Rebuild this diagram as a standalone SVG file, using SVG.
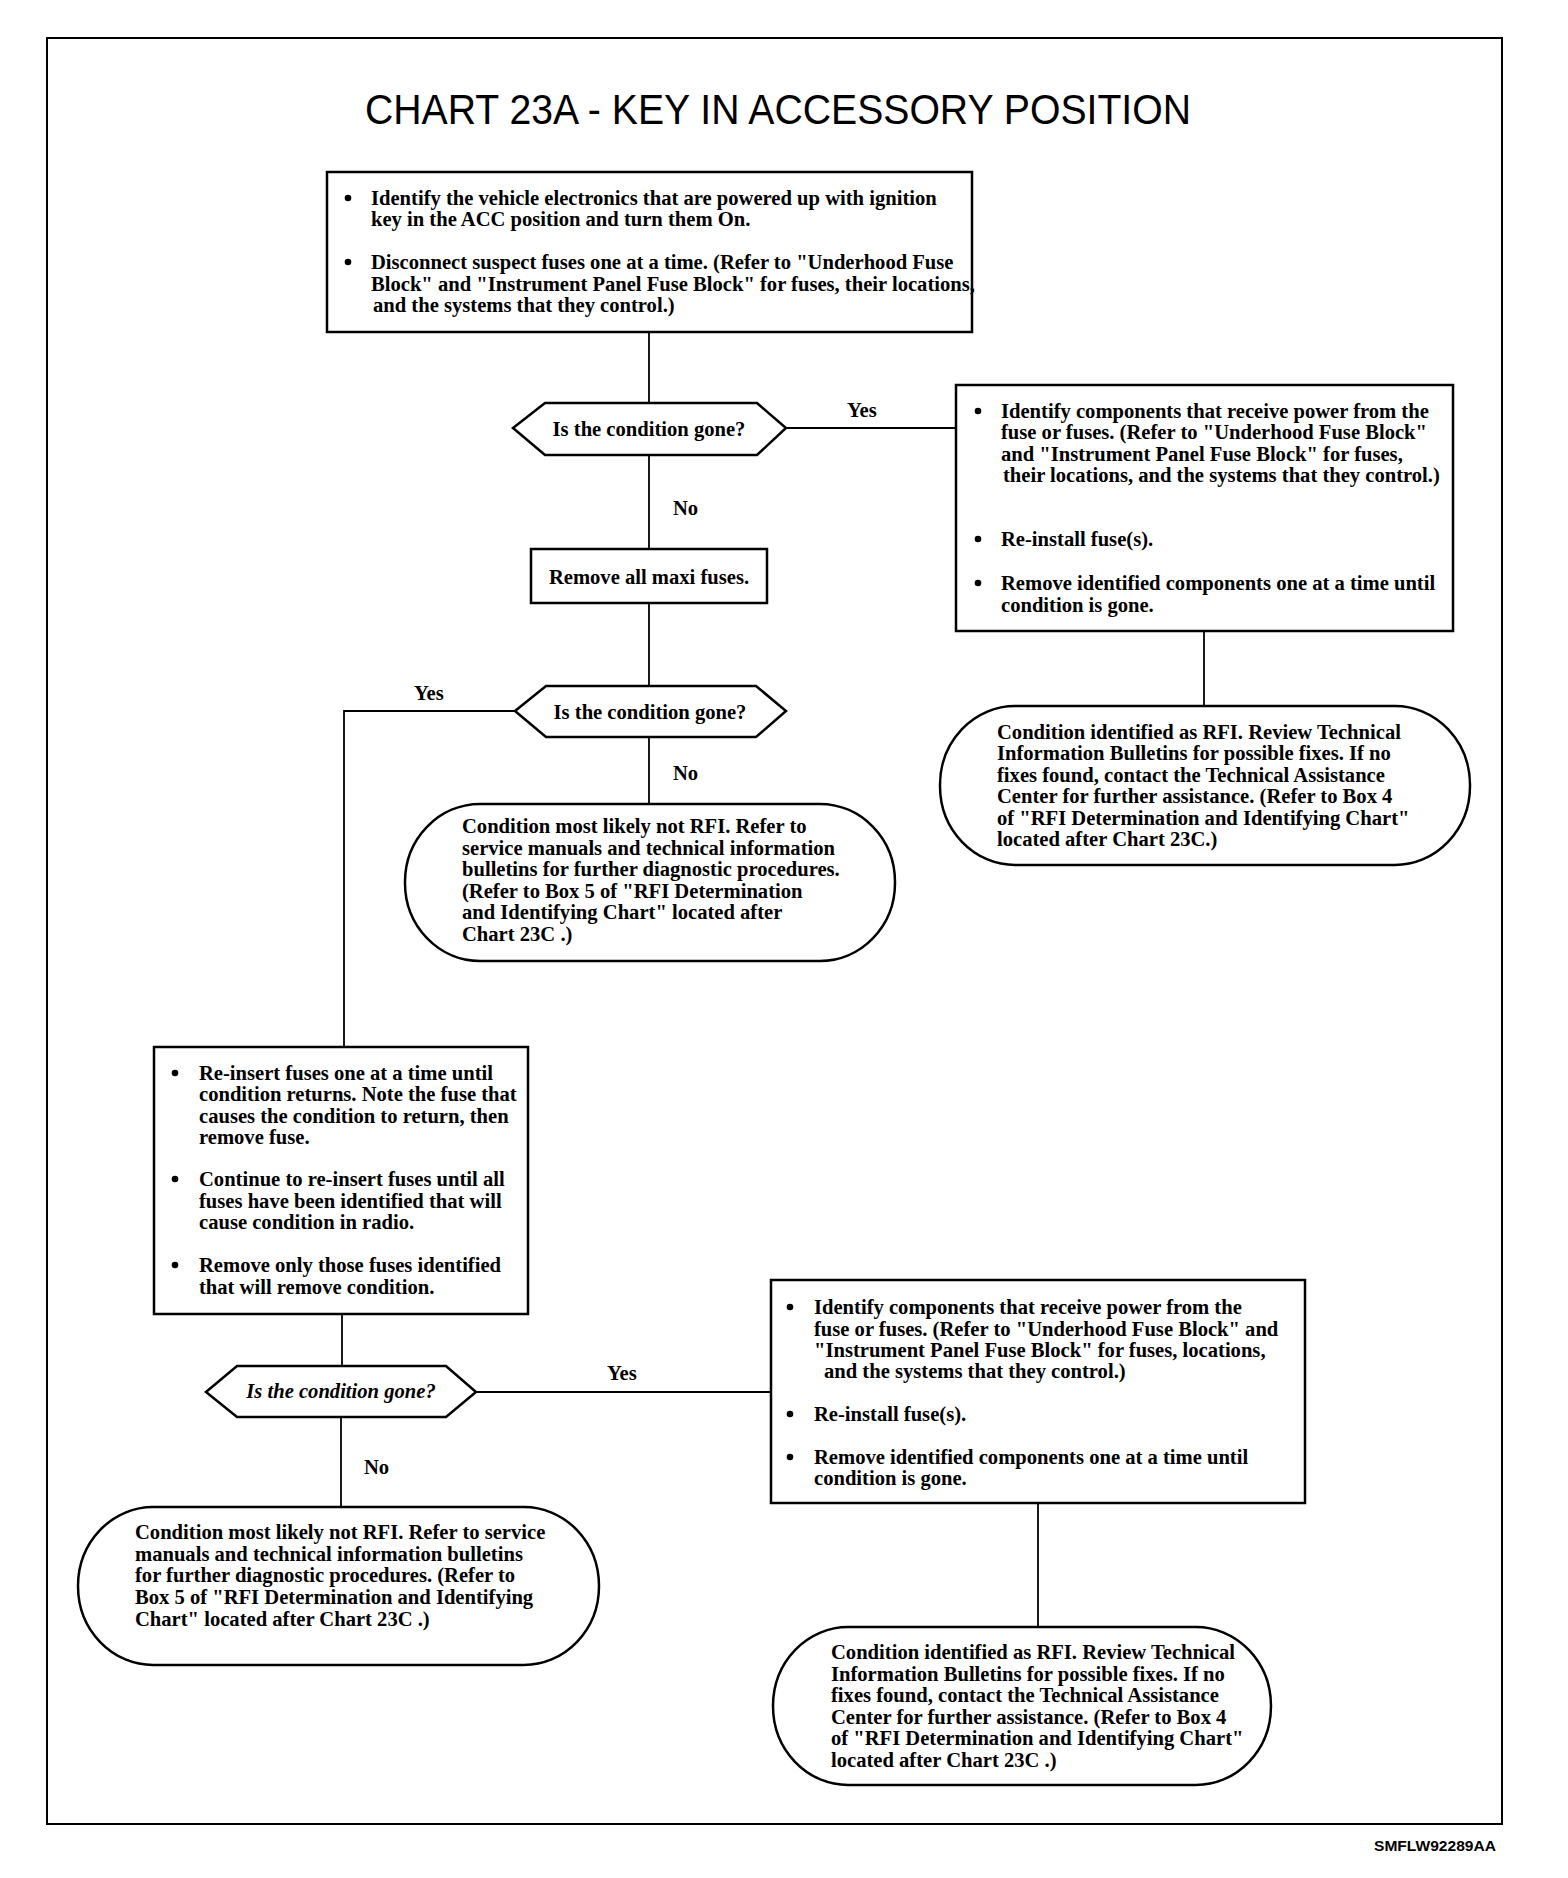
<svg xmlns="http://www.w3.org/2000/svg" width="1568" height="1878" viewBox="0 0 1568 1878">
<style>
.bx{fill:#fff;stroke:#000;stroke-width:2.5}
.ln{fill:none;stroke:#000;stroke-width:1.8}
.t{font-family:"Liberation Serif","Times New Roman",serif;font-size:20.6px;font-weight:bold;fill:#000}
.c{text-anchor:middle}
.bul{fill:#000}
</style>
<rect x="0" y="0" width="1568" height="1878" fill="#fff"/>
<rect x="47" y="38" width="1455" height="1786" fill="none" stroke="#000" stroke-width="2"/>
<text x="778" y="124" font-family="'Liberation Sans',Arial,sans-serif" font-size="42" text-anchor="middle" textLength="826" lengthAdjust="spacingAndGlyphs">CHART 23A - KEY IN ACCESSORY POSITION</text>

<g id="connectors">
<line class="ln" x1="649" y1="332" x2="649" y2="403"/>
<line class="ln" x1="786" y1="428" x2="956" y2="428"/>
<line class="ln" x1="649" y1="455" x2="649" y2="549"/>
<line class="ln" x1="1204" y1="631" x2="1204" y2="706"/>
<line class="ln" x1="649" y1="603" x2="649" y2="686"/>
<polyline class="ln" points="515,711 344,711 344,1047"/>
<line class="ln" x1="649" y1="737" x2="649" y2="804"/>
<line class="ln" x1="342" y1="1314" x2="342" y2="1366"/>
<line class="ln" x1="476" y1="1392" x2="771" y2="1392"/>
<line class="ln" x1="341" y1="1417" x2="341" y2="1507"/>
<line class="ln" x1="1038" y1="1503" x2="1038" y2="1627"/>
<text class="t" x="847" y="417">Yes</text>
<text class="t" x="673" y="515">No</text>
<text class="t" x="414" y="700">Yes</text>
<text class="t" x="673" y="780">No</text>
<text class="t" x="607" y="1380" font-weight="normal">Yes</text>
<text class="t" x="364" y="1474">No</text>
</g>

<g id="box-start">
<rect class="bx" x="327" y="172" width="645" height="160"/>
<circle class="bul" cx="348" cy="198" r="3.3"/>
<circle class="bul" cx="348" cy="262" r="3.3"/>
<text class="t" x="371" y="205">Identify the vehicle electronics that are powered up with ignition</text>
<text class="t" x="371" y="226">key in the ACC position and turn them On.</text>
<text class="t" x="371" y="269">Disconnect suspect fuses one at a time. (Refer to "Underhood Fuse</text>
<text class="t" x="371" y="291">Block" and "Instrument Panel Fuse Block" for fuses, their locations,</text>
<text class="t" x="373" y="312">and the systems that they control.)</text>
</g>

<g id="decision-1">
<polygon class="bx" points="513,428 545,403 757,403 786,428 757,455 545,455"/>
<text class="t c" x="649" y="436">Is the condition gone?</text>
</g>

<g id="box-identify-1">
<rect class="bx" x="956" y="385" width="497" height="246"/>
<circle class="bul" cx="978" cy="411" r="3.3"/>
<circle class="bul" cx="978" cy="539" r="3.3"/>
<circle class="bul" cx="978" cy="583" r="3.3"/>
<text class="t" x="1001" y="418">Identify components that receive power from the</text>
<text class="t" x="1001" y="439">fuse or fuses. (Refer to "Underhood Fuse Block"</text>
<text class="t" x="1001" y="461">and "Instrument Panel Fuse Block" for fuses,</text>
<text class="t" x="1003" y="482">their locations, and the systems that they control.)</text>
<text class="t" x="1001" y="546">Re-install fuse(s).</text>
<text class="t" x="1001" y="590">Remove identified components one at a time until</text>
<text class="t" x="1001" y="612">condition is gone.</text>
</g>

<g id="end-rfi-1">
<rect class="bx" x="940" y="706" width="530" height="159" rx="75" ry="79"/>
<text class="t" x="997" y="739">Condition identified as RFI. Review Technical</text>
<text class="t" x="997" y="760">Information Bulletins for possible fixes. If no</text>
<text class="t" x="997" y="782">fixes found, contact the Technical Assistance</text>
<text class="t" x="997" y="803">Center for further assistance. (Refer to Box 4</text>
<text class="t" x="997" y="825">of "RFI Determination and Identifying Chart"</text>
<text class="t" x="997" y="846">located after Chart 23C.)</text>
</g>

<g id="box-maxi">
<rect class="bx" x="531" y="549" width="236" height="54"/>
<text class="t c" x="649" y="584">Remove all maxi fuses.</text>
</g>

<g id="decision-2">
<polygon class="bx" points="515,711 546,686 756,686 786,711 756,737 546,737"/>
<text class="t c" x="650" y="719">Is the condition gone?</text>
</g>

<g id="end-notrfi-1">
<rect class="bx" x="405" y="804" width="490" height="157" rx="75" ry="78"/>
<text class="t" x="462" y="833">Condition most likely not RFI. Refer to</text>
<text class="t" x="462" y="855">service manuals and technical information</text>
<text class="t" x="462" y="876">bulletins for further diagnostic procedures.</text>
<text class="t" x="462" y="898">(Refer to Box 5 of "RFI Determination</text>
<text class="t" x="462" y="919">and Identifying Chart" located after</text>
<text class="t" x="462" y="941">Chart 23C .)</text>
</g>

<g id="box-reinsert">
<rect class="bx" x="154" y="1047" width="374" height="267"/>
<circle class="bul" cx="175" cy="1073" r="3.3"/>
<circle class="bul" cx="175" cy="1179" r="3.3"/>
<circle class="bul" cx="175" cy="1265" r="3.3"/>
<text class="t" x="199" y="1080">Re-insert fuses one at a time until</text>
<text class="t" x="199" y="1101">condition returns. Note the fuse that</text>
<text class="t" x="199" y="1123">causes the condition to return, then</text>
<text class="t" x="199" y="1144">remove fuse.</text>
<text class="t" x="199" y="1186">Continue to re-insert fuses until all</text>
<text class="t" x="199" y="1208">fuses have been identified that will</text>
<text class="t" x="199" y="1229">cause condition in radio.</text>
<text class="t" x="199" y="1272">Remove only those fuses identified</text>
<text class="t" x="199" y="1294">that will remove condition.</text>
</g>

<g id="decision-3">
<polygon class="bx" points="206,1392 237,1366 446,1366 476,1392 446,1417 237,1417"/>
<text class="t c" x="341" y="1398" font-style="italic" font-weight="normal" font-size="21.5">Is the condition gone?</text>
</g>

<g id="box-identify-2">
<rect class="bx" x="771" y="1280" width="534" height="223"/>
<circle class="bul" cx="790" cy="1307" r="3.3"/>
<circle class="bul" cx="790" cy="1414" r="3.3"/>
<circle class="bul" cx="790" cy="1457" r="3.3"/>
<text class="t" x="814" y="1314">Identify components that receive power from the</text>
<text class="t" x="814" y="1336">fuse or fuses. (Refer to "Underhood Fuse Block" and</text>
<text class="t" x="814" y="1357">"Instrument Panel Fuse Block" for fuses, locations,</text>
<text class="t" x="824" y="1378">and the systems that they control.)</text>
<text class="t" x="814" y="1421">Re-install fuse(s).</text>
<text class="t" x="814" y="1464">Remove identified components one at a time until</text>
<text class="t" x="814" y="1485">condition is gone.</text>
</g>

<g id="end-notrfi-2">
<rect class="bx" x="78" y="1507" width="521" height="158" rx="75" ry="79"/>
<text class="t" x="135" y="1539">Condition most likely not RFI. Refer to service</text>
<text class="t" x="135" y="1561">manuals and technical information bulletins</text>
<text class="t" x="135" y="1582">for further diagnostic procedures. (Refer to</text>
<text class="t" x="135" y="1604">Box 5 of "RFI Determination and Identifying</text>
<text class="t" x="135" y="1626">Chart" located after Chart 23C .)</text>
</g>

<g id="end-rfi-2">
<rect class="bx" x="773" y="1627" width="498" height="158" rx="75" ry="79"/>
<text class="t" x="831" y="1659">Condition identified as RFI. Review Technical</text>
<text class="t" x="831" y="1681">Information Bulletins for possible fixes. If no</text>
<text class="t" x="831" y="1702">fixes found, contact the Technical Assistance</text>
<text class="t" x="831" y="1724">Center for further assistance. (Refer to Box 4</text>
<text class="t" x="831" y="1745">of "RFI Determination and Identifying Chart"</text>
<text class="t" x="831" y="1767">located after Chart 23C .)</text>
</g>

<text x="1374" y="1851" font-family="'Liberation Sans',Arial,sans-serif" font-size="15" font-weight="bold" textLength="122" lengthAdjust="spacingAndGlyphs">SMFLW92289AA</text>
</svg>
